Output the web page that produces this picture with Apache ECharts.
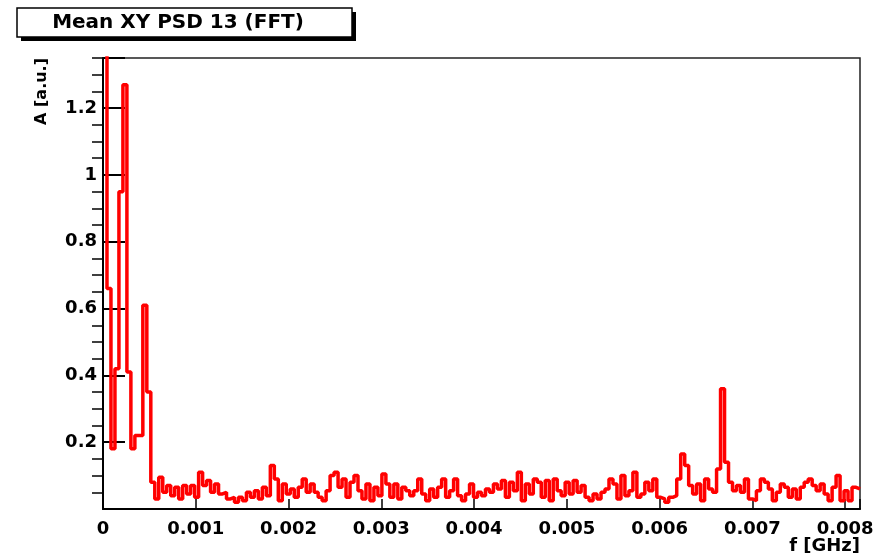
<!DOCTYPE html>
<html>
<head>
<meta charset="utf-8">
<script src="https://cdn.jsdelivr.net/npm/echarts@6/dist/echarts.min.js"></script>
<style>
html,body{margin:0;padding:0;background:#fff;}
#c{width:885px;height:557px;}
</style>
</head>
<body>
<div id="c"></div>
<script>
// Histogram definition (frequency axis in GHz)
const xMin = 0;
const xMax = 0.00816;
const nBins = 190;
// Bin contents A [a.u.], bin 0 .. 189
const binValues = [
  1.60, 0.66, 0.18, 0.42, 0.95, 1.27, 0.41, 0.18, 0.22, 0.22,
  0.61, 0.35, 0.08, 0.03, 0.095, 0.05, 0.07, 0.04, 0.065, 0.03,
  0.07, 0.045, 0.07, 0.035, 0.11, 0.07, 0.085, 0.05, 0.075, 0.045,
  0.05, 0.03, 0.035, 0.02, 0.035, 0.025, 0.05, 0.035, 0.055, 0.03,
  0.065, 0.04, 0.13, 0.09, 0.025, 0.075, 0.045, 0.06, 0.035, 0.065,
  0.09, 0.05, 0.075, 0.05, 0.035, 0.025, 0.055, 0.10, 0.11, 0.065,
  0.09, 0.035, 0.08, 0.10, 0.055, 0.03, 0.075, 0.025, 0.065, 0.04,
  0.105, 0.075, 0.035, 0.075, 0.03, 0.065, 0.055, 0.04, 0.055, 0.09,
  0.045, 0.025, 0.06, 0.035, 0.065, 0.09, 0.035, 0.055, 0.09, 0.04,
  0.025, 0.045, 0.075, 0.035, 0.05, 0.04, 0.06, 0.05, 0.075, 0.06,
  0.085, 0.035, 0.08, 0.055, 0.11, 0.025, 0.075, 0.045, 0.09, 0.08,
  0.035, 0.085, 0.025, 0.09, 0.055, 0.04, 0.08, 0.045, 0.085, 0.05,
  0.07, 0.035, 0.025, 0.045, 0.03, 0.05, 0.06, 0.09, 0.075, 0.03,
  0.10, 0.04, 0.055, 0.11, 0.035, 0.045, 0.08, 0.055, 0.09, 0.035,
  0.03, 0.02, 0.035, 0.04, 0.09, 0.165, 0.13, 0.07, 0.045, 0.075,
  0.025, 0.09, 0.06, 0.05, 0.12, 0.36, 0.14, 0.08, 0.055, 0.07,
  0.05, 0.09, 0.03, 0.025, 0.055, 0.09, 0.08, 0.06, 0.025, 0.05,
  0.075, 0.065, 0.035, 0.06, 0.03, 0.065, 0.08, 0.09, 0.07, 0.055,
  0.075, 0.045, 0.025, 0.065, 0.10, 0.025, 0.055, 0.025, 0.065, 0.06
];
const xTickInterval = 0.001;
const yMax = 1.35;
const yTickInterval = 0.2;
const titleText = 'Mean XY PSD 13 (FFT)';
const xName = 'f [GHz]';
const yName = 'A [a.u.]';

const binWidth = (xMax - xMin) / nBins;
const stepData = binValues.map((v, i) => [xMin + i * binWidth, v]);
stepData.push([xMax, binValues[binValues.length - 1]]);

const FONT = 'DejaVu Sans';
const chart = echarts.init(document.getElementById('c'), null, {renderer: 'canvas'});
chart.setOption({
  animation: false,
  backgroundColor: '#fff',
  grid: {left: 103, right: 25, top: 58, bottom: 48, show: true, borderColor: '#222', borderWidth: 1.5, backgroundColor: 'transparent'},
  xAxis: {
    type: 'value', min: xMin, max: xMax, interval: xTickInterval,
    axisLine: {show: true, onZero: false, lineStyle: {color: '#000', width: 2}},
    axisTick: {show: true, inside: true, length: 10, lineStyle: {color: '#000', width: 1.5}},
    splitLine: {show: false},
    axisLabel: {
      color: '#000', fontFamily: FONT, fontWeight: 'bold', fontSize: 18, margin: 11,
      showMaxLabel: true,
      formatter: v => {
        const k = v / xTickInterval;
        if (Math.abs(k - Math.round(k)) > 1e-6) return '';
        return v === 0 ? '0' : String(+v.toFixed(3));
      }
    }
  },
  yAxis: [{
    type: 'value', min: 0, max: yMax, interval: yTickInterval,
    axisLine: {show: true, onZero: false, lineStyle: {color: '#000', width: 2}},
    axisTick: {show: false},
    minorTick: {show: true, splitNumber: 4, length: 11, lineStyle: {color: '#000', width: 1.5}},
    splitLine: {show: false},
    minorSplitLine: {show: false},
    axisLabel: {
      color: '#000', fontFamily: FONT, fontWeight: 'bold', fontSize: 18, margin: 6,
      formatter: v => {
        const k = v / yTickInterval;
        if (v === 0 || Math.abs(k - Math.round(k)) > 1e-6) return '';
        return String(+v.toFixed(1));
      }
    }
  }, {
    // overlay axis drawing only the long major ticks
    type: 'value', min: 0, max: yMax, interval: yTickInterval, position: 'left', offset: -22,
    axisLine: {show: false, onZero: false},
    axisTick: {show: true, inside: false, length: 22, lineStyle: {color: '#000', width: 2}},
    axisLabel: {show: false},
    splitLine: {show: false}
  }],
  series: [{
    type: 'line', step: 'end', data: stepData, symbol: 'none', clip: true,
    lineStyle: {color: '#ff0000', width: 3.5}, z: 1
  }],
  graphic: [
    {type: 'rect', shape: {x: 21, y: 12, width: 335, height: 29}, style: {fill: '#000'}, z: 10},
    {type: 'rect', shape: {x: 17, y: 8, width: 335, height: 29}, style: {fill: '#fff', stroke: '#000', lineWidth: 1.5}, z: 11},
    {type: 'text', x: 178, y: 23, style: {text: titleText, font: 'bold 20px "DejaVu Sans"', fill: '#000', align: 'center', verticalAlign: 'middle'}, z: 12},
    {type: 'text', x: 860, y: 546, style: {text: xName, font: 'bold 18px "DejaVu Sans"', fill: '#000', align: 'right', verticalAlign: 'middle'}, z: 12},
    {type: 'text', x: 42, y: 58, rotation: Math.PI / 2, style: {text: yName, font: 'bold 16px "DejaVu Sans"', fill: '#000', align: 'right', verticalAlign: 'middle'}, z: 12}
  ]
});
</script>
</body>
</html>
